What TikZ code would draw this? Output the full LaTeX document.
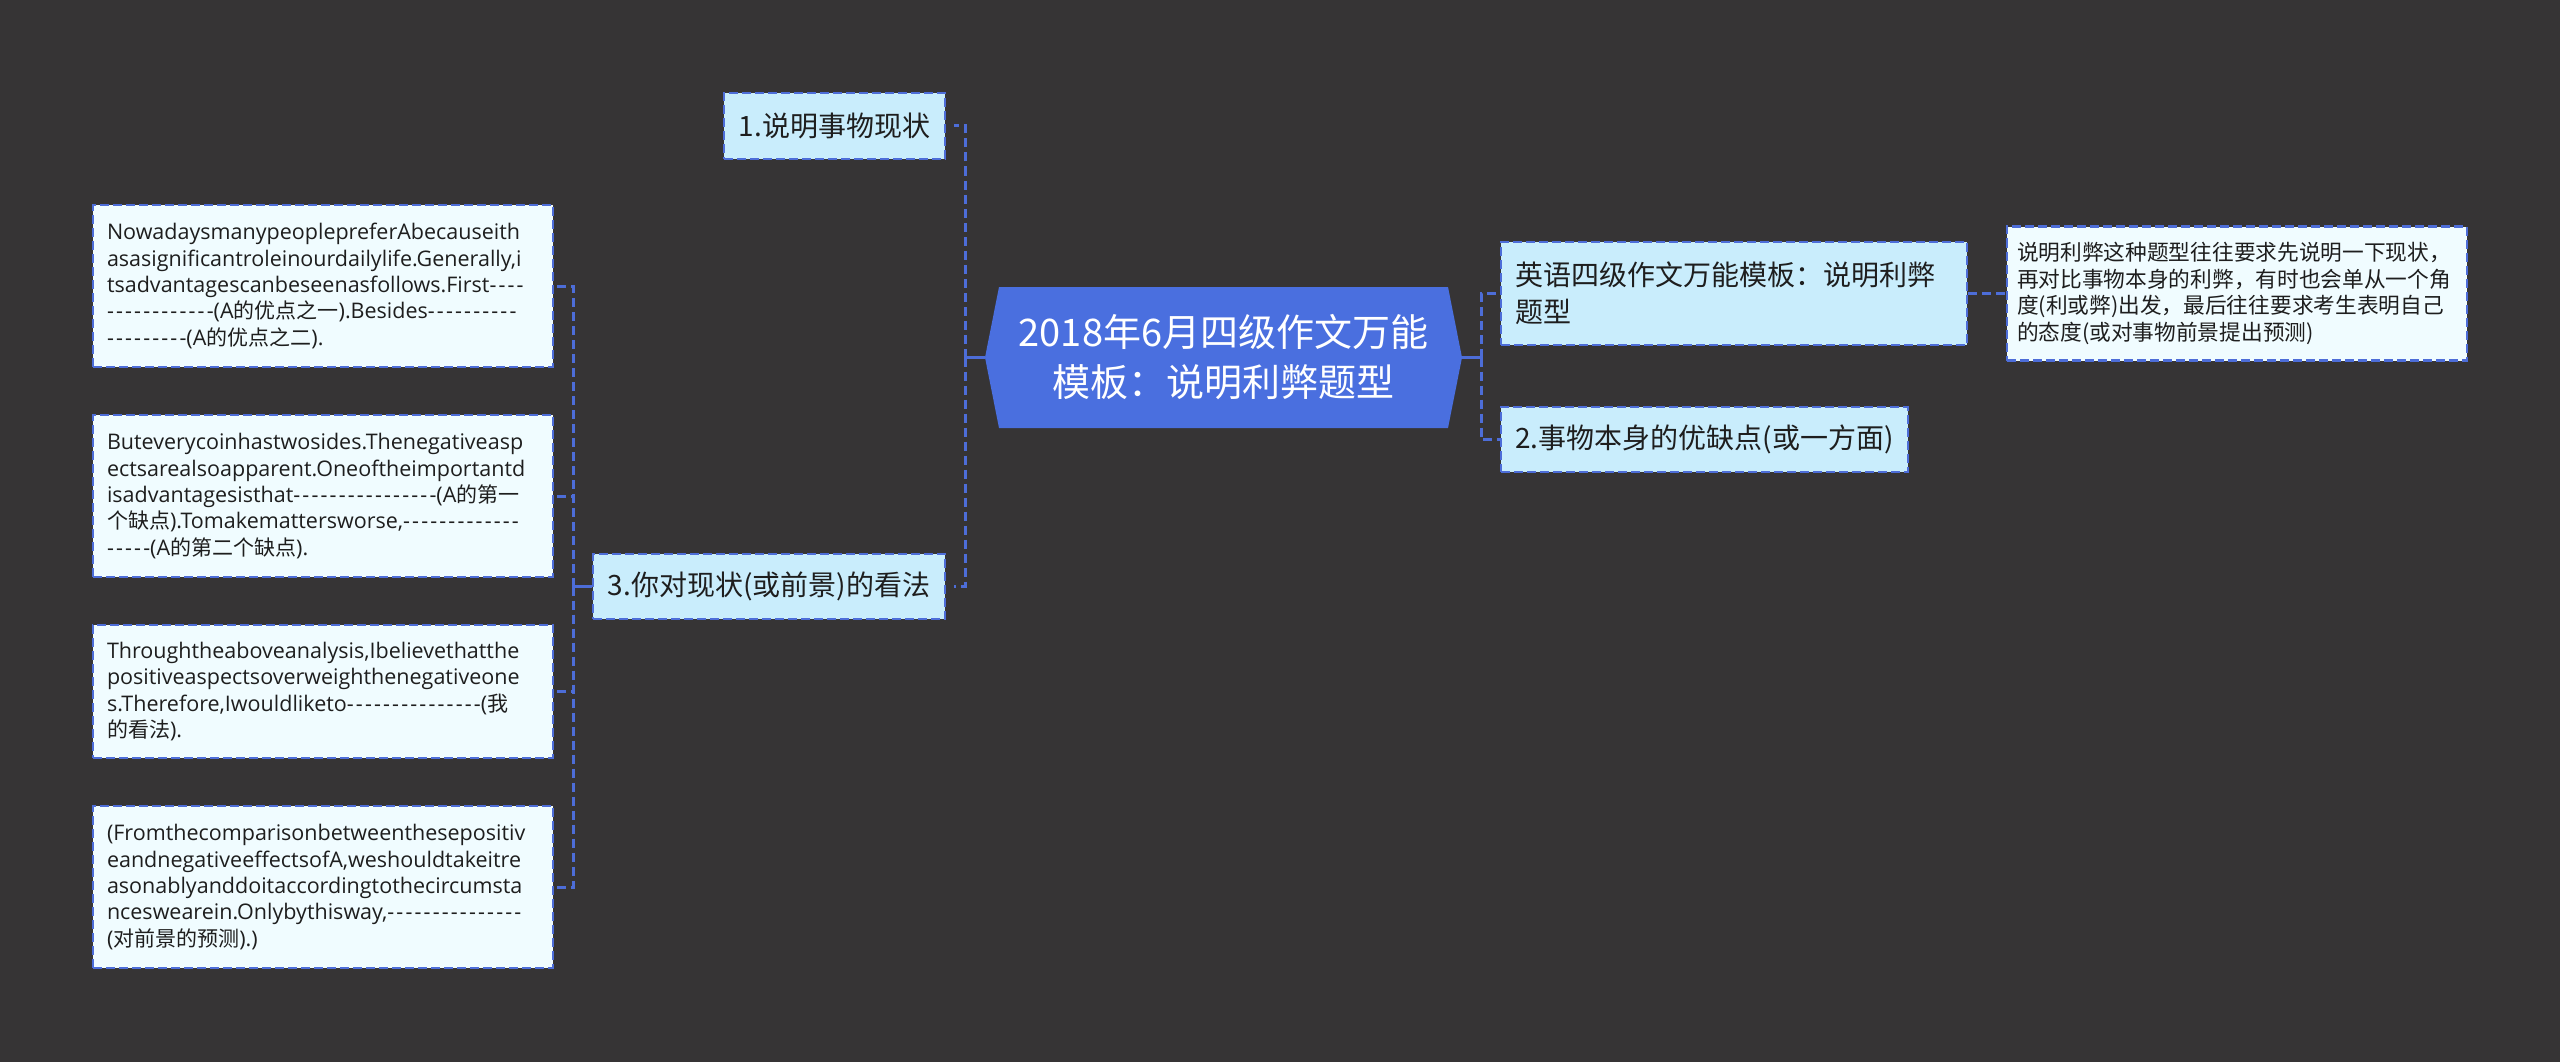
\documentclass[tikz,border=0pt]{standalone}
\usepackage{fontspec}
\setmainfont{Noto Sans CJK SC}
\newfontfamily\cjkf{Noto Sans CJK SC}
\newfontfamily\latf{Open Sans}
\newfontfamily\hyf[LetterSpace=10]{Open Sans}
\newcommand\zhx[1]{{\cjkf\fontsize{21}{26.3}\selectfont #1}}
\newcommand\hy[1]{{\hyf #1}}
\newcommand\nobrk{\hyphenpenalty=10000 \exhyphenpenalty=10000 }
\definecolor{bg}{HTML}{363435}
\definecolor{rootblue}{HTML}{4A6FDF}
\definecolor{lvl}{HTML}{C9EDFC}
\definecolor{leafc}{HTML}{F0FCFF}
\definecolor{edgec}{HTML}{4D6DD8}
\definecolor{ink}{HTML}{1E1E1E}
\tikzset{
  box/.style={draw=edgec, line width=2.5pt, dash pattern=on 9pt off 4pt, inner ysep=0pt, text=ink, anchor=center},
  lvlbox/.style={box, fill=lvl, inner xsep=0pt, font=\fontsize{28}{37}\selectfont},
  leafbox/.style={box, fill=leafc, inner xsep=14pt, text width=432pt, align=left,
    font=\latf\fontsize{21.5}{26.3}\selectfont},
  conn/.style={draw=edgec, line width=3pt, dash pattern=on 9pt off 5pt},
  stub/.style={draw=edgec, line width=3pt},
}
\begin{document}
\begin{tikzpicture}[x=1pt,y=-1pt]
\useasboundingbox (0,0) rectangle (2560,1062);
\fill[bg] (0,0) rectangle (2560,1062);

% root hexagon
\fill[rootblue] (985,357.5) -- (999,287) -- (1448,287) -- (1462,357.5) -- (1448,428) -- (999,428) -- cycle;
\node[minimum width=477pt, minimum height=141pt, inner sep=0pt, text=white, align=center,
  font=\fontsize{38}{50}\selectfont] (root) at (1223.5,357.5) {2018年6月四级作文万能\\模板：说明利弊题型};

% level 1 nodes
\node[lvlbox, minimum width=221pt, minimum height=66pt] (n1) at (834.5,126) {1.说明事物现状};
\node[lvlbox, minimum width=352pt, minimum height=65pt] (n3) at (769,586.5) {3.你对现状(或前景)的看法};
\node[lvlbox, minimum width=466pt, minimum height=103pt, inner xsep=14pt, text width=438pt, align=left] (n4) at (1734,293.5) {英语四级作文万能模板：说明利弊\\题型};
\node[lvlbox, minimum width=407pt, minimum height=65pt] (n2) at (1704.5,439.5) {2.事物本身的优缺点(或一方面)};

% description
\node[box, fill=leafc, minimum height=134pt, inner xsep=10pt, text width=440pt, align=left,
  font=\fontsize{21.7}{26.7}\selectfont] (desc) at (2237,293.5) {说明利弊这种题型往往要求先说明一下现状，\\再对比事物本身的利弊，有时也会单从一个角\\度(利或弊)出发，最后往往要求考生表明自己\\的态度(或对事物前景提出预测)};

% leaves
\node[leafbox, minimum height=162pt] (la) at (323,286) {\nobrk NowadaysmanypeoplepreferAbecauseith\\asasignificantroleinourdailylife.Generally,i\\tsadvantagescanbeseenasfollows.First\hy{----}\\\hy{------------}(A\zhx{的优点之一}).Besides\hy{----------}\\\hy{---------}(A\zhx{的优点之二}).};
\node[leafbox, minimum height=162pt] (lb) at (323,496) {\nobrk Buteverycoinhastwosides.Thenegativeasp\\ectsarealsoapparent.Oneoftheimportantd\\isadvantagesisthat\hy{----------------}(A\zhx{的第一}\\\zhx{个缺点}).Tomakemattersworse,\hy{-------------}\\\hy{-----}(A\zhx{的第二个缺点}).};
\node[leafbox, minimum height=133pt] (lc) at (323,691.5) {\nobrk Throughtheaboveanalysis,Ibelievethatthe\\positiveaspectsoverweighthenegativeone\\s.Therefore,Iwouldliketo\hy{---------------}(\zhx{我}\\\zhx{的看法}).};
\node[leafbox, minimum height=162pt] (ld) at (323,887) {\nobrk (Fromthecomparisonbetweenthesepositiv\\eandnegativeeffectsofA,weshouldtakeitre\\asonablyanddoitaccordingtothecircumsta\\nceswearein.Onlybythisway,\hy{---------------}\\(\zhx{对前景的预测}).)};

% connectors
\coordinate (jl) at (965,357.5);
\coordinate (jr) at (1481,357.5);
\coordinate (jl2) at (573,586.5);
\draw[stub] (root.west) -- (jl);
\draw[conn] (jl) |- ([xshift=8pt]n1.east);
\draw[conn] (jl) |- ([xshift=8pt]n3.east);
\draw[stub] (root.east) -- (jr);
\draw[conn] (jr) |- (n4.west);
\draw[conn] (jr) |- (n2.west);
\draw[conn] (n4.east) -- (desc.west);
\draw[stub] (n3.west) -- (jl2);
\draw[conn] (jl2) |- (la.east);
\draw[conn] (jl2) |- (lb.east);
\draw[conn] (jl2) |- (lc.east);
\draw[conn] (jl2) |- (ld.east);
\end{tikzpicture}
\end{document}
